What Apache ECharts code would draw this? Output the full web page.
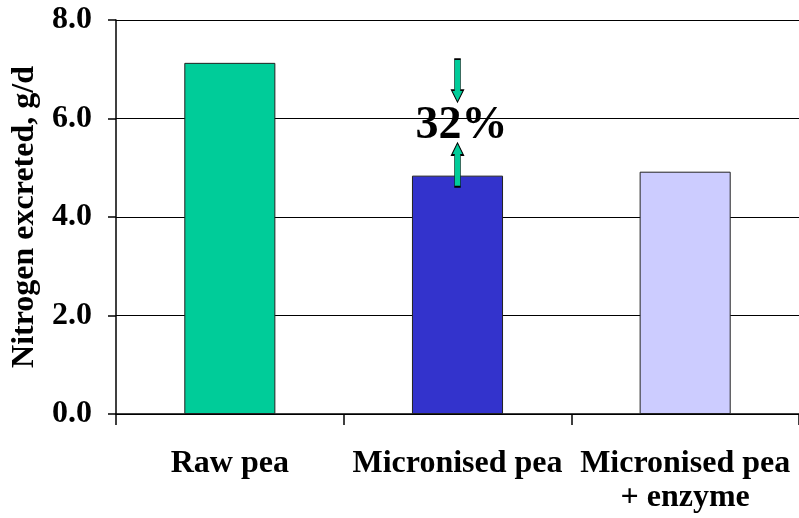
<!DOCTYPE html>
<html>
<head>
<meta charset="utf-8">
<script src="https://cdn.jsdelivr.net/npm/echarts@6/dist/echarts.min.js"></script>
<style>html,body{margin:0;padding:0;background:#fff}#c{width:799px;height:518px}</style>
</head>
<body>
<div id="c"></div>
<script>
const categories = ['Raw pea', 'Micronised pea', 'Micronised pea\n+ enzyme'];
const nitrogenExcreted = [7.13, 4.84, 4.92];
const reductionLabel = '32%';
const arrowDownValue = 6.77;
const arrowUpValue = 5.06;
const labelValue = 5.85;

const barColors = ['#00CC99', '#3333CC', '#CCCCFF'];
const font = '"Liberation Serif", "Times New Roman", serif';

const chart = echarts.init(document.getElementById('c'));
chart.setOption({
  animation: false,
  grid: { left: 116, right: 0, top: 20, bottom: 104, containLabel: false, outerBoundsMode: 'none' },
  xAxis: {
    type: 'category',
    data: categories,
    axisLine: { lineStyle: { color: '#000', width: 1.5 } },
    axisTick: { show: true, length: 11, lineStyle: { color: '#000', width: 1.5 } },
    axisLabel: { margin: 33, color: '#000', fontFamily: font, fontWeight: 'bold', fontSize: 32, lineHeight: 34, interval: 0 }
  },
  yAxis: {
    type: 'value',
    min: 0, max: 8, interval: 2,
    name: 'Nitrogen excreted, g/d',
    nameLocation: 'middle',
    nameGap: 72,
    nameTextStyle: { color: '#000', fontFamily: font, fontWeight: 'bold', fontSize: 32 },
    axisLine: { show: true, lineStyle: { color: '#000', width: 1.5 } },
    axisTick: { show: true, length: 8, lineStyle: { color: '#000', width: 1.5 } },
    axisLabel: { margin: 24, color: '#000', fontFamily: font, fontWeight: 'bold', fontSize: 32,
      formatter: v => v.toFixed(1) },
    splitLine: { show: true, lineStyle: { color: '#000', width: 1.2 } }
  },
  series: [{
    type: 'bar',
    barWidth: '40%',
    data: nitrogenExcreted.map((v, i) => ({ value: v, itemStyle: { color: barColors[i] } })),
    itemStyle: { borderColor: '#222', borderWidth: 1 },
    markPoint: {
      silent: true,
      data: [
        { coord: [categories[1], arrowDownValue], symbol: 'path://M3,0 L9,0 L9,31 L12,31 L6,43 L0,31 L3,31 Z',
          symbolSize: [12, 43], symbolKeepAspect: false,
          itemStyle: { color: '#00CC99', borderColor: '#000', borderWidth: 1 }, label: { show: false } },
        { coord: [categories[1], arrowUpValue], symbol: 'path://M6,0 L12,12 L9,12 L9,43 L3,43 L3,12 L0,12 Z',
          symbolSize: [12, 44], symbolKeepAspect: false,
          itemStyle: { color: '#00CC99', borderColor: '#000', borderWidth: 1 }, label: { show: false } },
        { coord: [categories[1], labelValue], symbol: 'rect', symbolSize: 0,
          label: { show: true, formatter: reductionLabel, position: 'inside', offset: [4, 0],
            color: '#000', fontFamily: font, fontWeight: 'bold', fontSize: 46 } }
      ]
    }
  }]
});
</script>
</body>
</html>
